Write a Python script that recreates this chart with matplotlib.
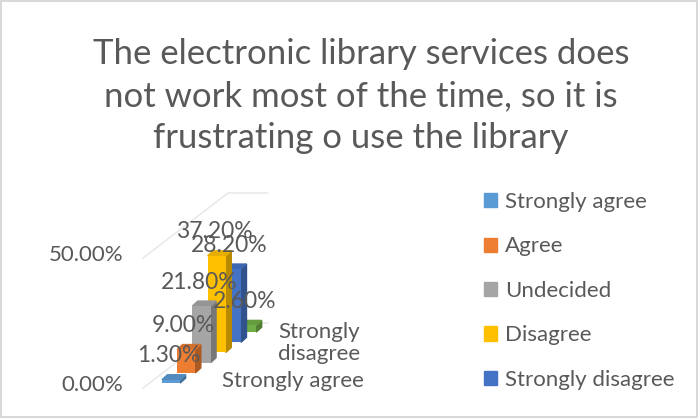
import matplotlib.pyplot as plt
from matplotlib.patches import Patch, Polygon

# data
series = ["Strongly agree", "Agree", "Undecided", "Disagree", "Strongly disagree", ""]
values = [1.30, 9.00, 21.80, 37.20, 28.20, 2.60]
colors = ["#5B9BD5", "#ED7D31", "#A5A5A5", "#FFC000", "#4472C4", "#70AD47"]
ticks = [0, 50]
depth_labels = ["Strongly agree", "Strongly\ndisagree"]
title = "The electronic library services does\nnot work most of the time, so it is\nfrustrating o use the library"

TXT = "#595959"
plt.rcParams['font.family'] = ['Lato', 'DejaVu Sans']


def shade(c, f):
    r, g, b = [int(c[k:k + 2], 16) / 255 for k in (1, 3, 5)]
    return (r * f, g * f, b * f)


fig = plt.figure(figsize=(6.98, 4.18), dpi=100)
fig.patch.set_edgecolor("#D9D9D9")
fig.patch.set_linewidth(1.5)
ax = fig.add_axes([0, 0, 1, 1])
ax.axis('off')

# oblique projection, 2.6 px per percent
PX = 2.6
ax.set_xlim(-143 / PX, (698 - 143) / PX)
ax.set_ylim((388 - 418) / PX, 388 / PX)

# walls / gridlines
WX, WY, BX = 32.7, 25.0, 48.0
for g in ticks:
    ax.plot([0, WX, BX], [g, g + WY, g + WY], color="#E6E6E6", lw=1, zorder=1)
    ax.text(-7.7, g + 1, f"{g:.2f}%", ha='right', va='center', fontsize=16, color=TXT)

# bars
X0, Y0, DX, DY = 7.3, 1.9, 5.85, 3.92
W, dx, dy = 7.0, 2.1, 1.9
for i in range(len(values) - 1, -1, -1):
    v, c = values[i], colors[i]
    x0, y0 = X0 + i * DX, Y0 + i * DY
    z = 10 + (len(values) - i) * 3
    ax.add_patch(Polygon([(x0 + W, y0), (x0 + W + dx, y0 + dy), (x0 + W + dx, y0 + v + dy),
                          (x0 + W, y0 + v)], closed=True, color=shade(c, 0.72), zorder=z))
    ax.add_patch(Polygon([(x0, y0 + v), (x0 + dx, y0 + v + dy), (x0 + W + dx, y0 + v + dy),
                          (x0 + W, y0 + v)], closed=True, color=shade(c, 0.9), zorder=z + 1))
    ax.bar(x0, v, width=W, bottom=y0, align='edge', color=c, zorder=z + 2)
for i, v in enumerate(values):
    x0, y0 = X0 + i * DX, Y0 + i * DY
    ax.text(x0 + W / 2 - 1, y0 + v + 9.2, f"{v:.2f}%", ha='center', va='center',
            fontsize=16.5, color=TXT, zorder=40 + i)

# depth axis labels
ax.text(30.4, 2.7, depth_labels[0], ha='left', va='center', fontsize=16, color=TXT)
ax.text(51.9, 17.3, depth_labels[1], ha='left', va='center', fontsize=16, color=TXT,
        linespacing=1.15)

fig.text(361 / 698, 1 - 96 / 418, title, ha='center', va='center', fontsize=25,
         color=TXT, linespacing=1.38)

handles = [Patch(color=c) for c in colors[:5]]
fig.legend(handles, series[:5], loc='upper left', bbox_to_anchor=(484 / 698, 1 - 192 / 418),
           frameon=False, fontsize=16, labelcolor=TXT, handlelength=0.6, handleheight=0.6,
           handletextpad=0.35, labelspacing=1.1, borderpad=0, borderaxespad=0)

fig.savefig("out.png", dpi=100)
